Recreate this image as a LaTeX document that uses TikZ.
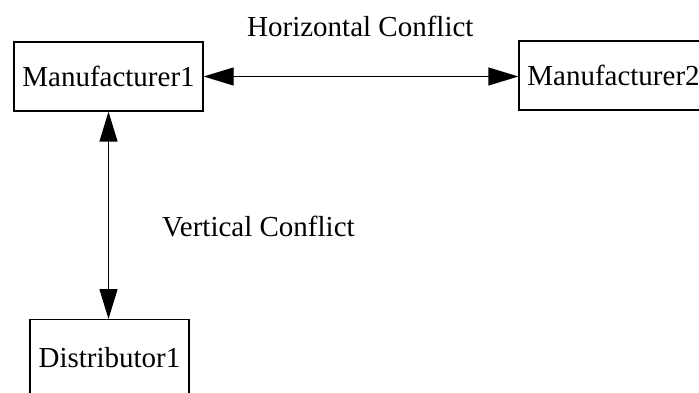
\documentclass[tikz,border=0pt]{standalone}
\usepackage{fontspec}
\setmainfont{Liberation Serif}
\usetikzlibrary{arrows.meta}
\begin{document}
\begin{tikzpicture}[x=1pt,y=-1pt,
  box/.style={draw, line width=1.3pt, inner sep=0pt, font=\fontsize{29}{34}\selectfont},
  lbl/.style={inner sep=0pt, font=\fontsize{29}{34}\selectfont},
  conn/.style={line width=1.3pt, {Triangle[length=30pt,width=18pt]}-{Triangle[length=30pt,width=18pt]}}]
\useasboundingbox (0,0) rectangle (699,393);
\node[box, minimum width=189pt, minimum height=69pt] (m1) at (108.5,76.5) {Manufacturer1};
\node[box, minimum width=189pt, minimum height=69pt] (m2) at (613.5,75.5) {Manufacturer2};
\node[box, minimum width=159pt, minimum height=100pt, text depth=24pt, anchor=north] (d1) at (109.5,319) {Distributor1};
\node[lbl, anchor=base west] (hc) at (247,37) {Horizontal Conflict};
\node[lbl, anchor=base west] (vc) at (162,236) {Vertical Conflict};
\draw[conn] (m1.east) -- (m1.east -| m2.west);
\draw[conn] (m1.south) -- (m1.south |- d1.north);
\end{tikzpicture}
\end{document}
